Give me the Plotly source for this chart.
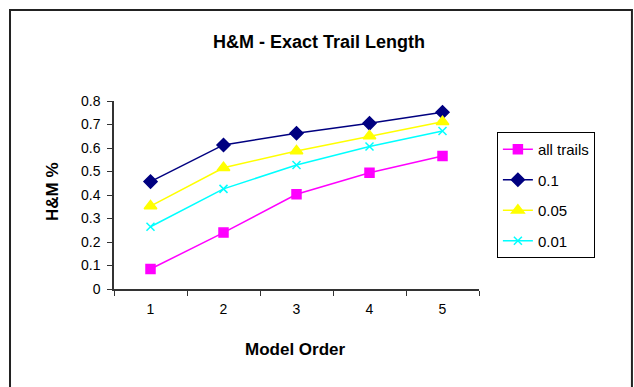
import plotly.graph_objects as go

categories = ["1", "2", "3", "4", "5"]
all_trails = [0.085, 0.24, 0.403, 0.495, 0.566]
p_01 = [0.457, 0.613, 0.663, 0.705, 0.752]
p_005 = [0.353, 0.516, 0.587, 0.651, 0.712]
p_001 = [0.265, 0.426, 0.528, 0.606, 0.672]
y_ticks = [0, 0.1, 0.2, 0.3, 0.4, 0.5, 0.6, 0.7, 0.8]
y_ticktext = ["0", "0.1", "0.2", "0.3", "0.4", "0.5", "0.6", "0.7", "0.8"]

FONT = "Liberation Sans, Arial, sans-serif"

series = [
    ("all trails", all_trails, "#FF00FF", "square", 9),
    ("0.1", p_01, "#000080", "diamond", 10),
    ("0.05", p_005, "#FFFF00", "triangle-up", 11),
    ("0.01", p_001, "#00FFFF", "x-thin", 8),
]

fig = go.Figure()
for i, (name, vals, color, sym, size) in enumerate(series):
    fig.add_trace(go.Scatter(
        x=categories, y=vals, name=name, mode="lines+markers",
        line=dict(color=color, width=1.5),
        marker=dict(symbol=sym, size=size, color=color,
                    line=dict(color=color, width=1.5)),
        legendgroup=f"g{i}",
    ))

fig.update_layout(
    width=634, height=387,
    margin=dict(l=114, r=155, t=101, b=98),
    paper_bgcolor="white", plot_bgcolor="white",
    font=dict(family=FONT, size=14, color="black"),
    showlegend=True,
    legend=dict(
        x=1.049, y=0.835, xanchor="left", yanchor="top",
        bordercolor="black", borderwidth=1, bgcolor="white",
        font=dict(size=15), tracegroupgap=8, traceorder="grouped",
    ),
    xaxis=dict(
        type="category", range=[-0.5, 4.5], showgrid=False,
        showline=True, linecolor="#333", linewidth=1.5,
        ticks="outside", ticklen=5, tickcolor="#333", tickson="boundaries",
        ticklabelstandoff=6, zeroline=False, fixedrange=True,
    ),
    yaxis=dict(
        range=[0, 0.8], tickvals=y_ticks, ticktext=y_ticktext, showgrid=False,
        showline=True, linecolor="#333", linewidth=1.5,
        ticks="outside", ticklen=5, tickcolor="#333",
        ticklabelstandoff=4, zeroline=False, fixedrange=True,
    ),
    annotations=[
        dict(text="<b>H&M - Exact Trail Length</b>", x=0.562, y=1.314,
             xref="paper", yref="paper", showarrow=False,
             xanchor="center", yanchor="middle",
             font=dict(size=18, family=FONT)),
        dict(text="<b>H&M %</b>", x=-0.167, y=0.516, xref="paper", yref="paper",
             showarrow=False, textangle=-90, xanchor="center", yanchor="middle",
             font=dict(size=17, family=FONT)),
        dict(text="<b>Model Order</b>", x=0.496, y=-0.324, xref="paper", yref="paper",
             showarrow=False, xanchor="center", yanchor="middle",
             font=dict(size=17, family=FONT)),
    ],
    shapes=[
        dict(type="rect", xref="paper", yref="paper",
             x0=-0.2849, x1=1.419, y0=-0.6, y1=1.484,
             line=dict(color="#222", width=2), layer="below"),
    ],
)

fig.write_html("out.html")
